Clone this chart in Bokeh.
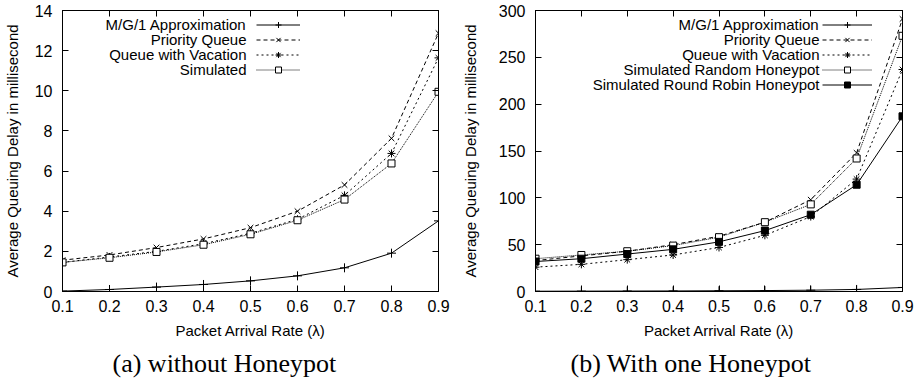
from bokeh.plotting import figure
from bokeh.models import Range1d, FixedTicker, LinearAxis, Legend, LegendItem, Label, Title
from bokeh.layouts import row
from bokeh.core.properties import value
from bokeh.embed import file_html
from bokeh.resources import INLINE

# ---------------- data ----------------
rates = [0.1, 0.2, 0.3, 0.4, 0.5, 0.6, 0.7, 0.8, 0.9]
x_ticks = [0.1, 0.2, 0.3, 0.4, 0.5, 0.6, 0.7, 0.8, 0.9]

# (a) without Honeypot
a_mg1 = [0.02, 0.10, 0.22, 0.35, 0.53, 0.78, 1.18, 1.91, 3.52]
a_priority = [1.56, 1.82, 2.19, 2.62, 3.18, 4.00, 5.31, 7.63, 12.87]
a_vacation = [1.45, 1.72, 2.00, 2.38, 2.90, 3.60, 4.79, 6.88, 11.64]
a_simulated = [1.45, 1.68, 1.97, 2.33, 2.85, 3.55, 4.58, 6.38, 9.95]
a_y_ticks = [0, 2, 4, 6, 8, 10, 12, 14]

# (b) With one Honeypot
b_mg1 = [0.3, 0.4, 0.5, 0.6, 0.8, 1.0, 1.4, 2.2, 4.3]
b_priority = [33, 38, 43, 50, 59, 74, 98, 148, 291]
b_vacation = [26, 29, 34, 39, 47, 60, 80, 120, 237]
b_random = [35, 39, 43, 49, 58, 74, 93, 142, 273]
b_roundrobin = [32, 35, 40, 45, 53, 65, 82, 114, 187]
b_y_ticks = [0, 50, 100, 150, 200, 250, 300]

SANS = "Liberation Sans"
SERIF = "Liberation Serif"

TOP = 10          # border above the frame
FRAME_H = 281
BOTTOM = 91


def make_fig(ymax, yticks, frame_w, left, right, ylab_standoff):
    p = figure(frame_width=frame_w, frame_height=FRAME_H,
               output_backend="svg", toolbar_location=None,
               x_range=Range1d(0.1, 0.9), y_range=Range1d(0, ymax),
               min_border_left=left, min_border_right=right,
               min_border_top=TOP, min_border_bottom=BOTTOM)
    p.grid.visible = False
    p.outline_line_color = "black"
    p.outline_line_width = 1
    p.background_fill_color = "white"
    p.border_fill_color = "white"

    p.xaxis.ticker = FixedTicker(ticks=x_ticks)
    p.yaxis.ticker = FixedTicker(ticks=yticks)
    for ax in (p.xaxis[0], p.yaxis[0]):
        ax.major_tick_in = 6
        ax.major_tick_out = 0
        ax.minor_tick_line_color = None
        ax.axis_line_color = "black"
        ax.major_tick_line_color = "black"
        ax.major_label_text_font = SANS
        ax.major_label_text_font_size = "16px"
        ax.major_label_text_color = "black"
        ax.axis_label_text_font = SANS
        ax.axis_label_text_font_size = "15px"
        ax.axis_label_text_font_style = "normal"
        ax.axis_label_text_color = "black"
        ax.axis_label_text_line_height = 1.0
    p.xaxis.axis_label = "Packet Arrival Rate (\u03bb)"
    p.xaxis.major_label_standoff = 8
    p.xaxis.axis_label_standoff = 7
    p.yaxis.axis_label = "Average Queuing Delay in millisecond"
    p.yaxis.major_label_standoff = 10
    p.yaxis.axis_label_standoff = ylab_standoff

    # mirrored ticks (gnuplot style), no labels drawn
    for loc, tks in (("above", x_ticks), ("right", yticks)):
        ax = LinearAxis(ticker=FixedTicker(ticks=tks), major_tick_in=6, major_tick_out=0,
                        minor_tick_line_color=None, major_label_text_font_size="1px",
                        major_label_text_color=None, major_label_standoff=0,
                        axis_line_color="black")
        p.add_layout(ax, loc)
    return p


def series(p, y, dash, marker, size, fill=None):
    r1 = p.line(rates, y, line_color="black", line_width=1, line_dash=dash)
    r2 = p.scatter(rates, y, marker=marker, size=size, line_color="black",
                   fill_color=fill, line_width=1)
    return [r1, r2]


def add_legend(p, renderers, labels, gx, gw, text_right, top_center, pitch=15.4):
    items = [LegendItem(label=value(""), renderers=r) for r in renderers]
    n = len(items)
    leg_h = n * 15
    top = top_center - 7.5
    leg = Legend(items=items, location=(gx, FRAME_H - top - leg_h),
                 glyph_width=gw, glyph_height=15, label_height=15, label_width=0,
                 label_standoff=0, spacing=0, padding=0, margin=0,
                 label_text_font_size="10px", label_text_color=None,
                 border_line_color=None, background_fill_alpha=0)
    p.add_layout(leg, "center")
    for i, lab in enumerate(labels):
        p.add_layout(Label(x=text_right, y=FRAME_H - (top_center + i * 15), x_units="screen",
                           y_units="screen", text=lab, text_align="right",
                           text_baseline="middle", text_font=SANS,
                           text_font_size="15px", text_color="black"))


def add_caption(p, text, offset):
    p.add_layout(Title(text=text, align="left", offset=offset, text_font=SERIF,
                       text_font_size="26px", text_font_style="normal",
                       text_color="black", standoff=11), "below")


# first legend row centre ~ 14 px below the frame top
LEG_TOP = 14

# ---------- (a) ----------
p1 = make_fig(14, a_y_ticks, 376, 56, 20, 11)
r_a = [
    series(p1, a_mg1, "solid", "cross", 9),
    series(p1, a_priority, "4 3", "x", 8),
    series(p1, a_vacation, "2 3", "asterisk", 8),
    series(p1, a_simulated, "1 1", "square", 7, "white"),
]
add_legend(p1, r_a, ["M/G/1 Approximation", "Priority Queue", "Queue with Vacation", "Simulated"],
           gx=194, gw=44, text_right=184, top_center=LEG_TOP)
add_caption(p1, "(a) without Honeypot", 50)

# ---------- (b) ----------
p2 = make_fig(300, b_y_ticks, 367, 73, 12, 17)
r_b = [
    series(p2, b_mg1, "solid", "cross", 9),
    series(p2, b_priority, "4 3", "x", 8),
    series(p2, b_vacation, "2 3", "asterisk", 8),
    series(p2, b_random, "1 1", "square", 7, "white"),
    series(p2, b_roundrobin, "solid", "square", 7, "black"),
]
add_legend(p2, r_b, ["M/G/1 Approximation", "Priority Queue", "Queue with Vacation",
                     "Simulated Random Honeypot", "Simulated Round Robin Honeypot"],
           gx=287, gw=50, text_right=284, top_center=LEG_TOP)
add_caption(p2, "(b) With one Honeypot", 35)

layout = row(p1, p2, spacing=0)
open("out.html", "w").write(file_html(layout, INLINE))
